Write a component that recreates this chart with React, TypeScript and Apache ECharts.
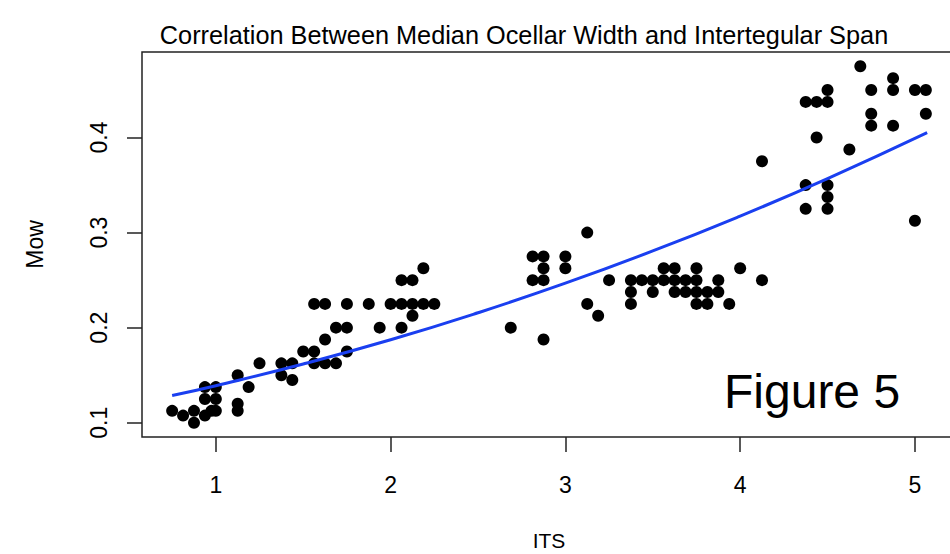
import React, { useEffect, useRef } from "react";
import * as echarts from "echarts";

// Scatter data: ITS (x) and Mow (y)
const itsValues = [
  0.75, 0.8125, 0.875, 0.875, 0.9375, 0.9375, 0.9375, 0.975, 1.0, 1.0, 1.0,
  1.125, 1.125, 1.125, 1.1875, 1.25, 1.375, 1.375, 1.4375, 1.4375,
  1.5, 1.5625, 1.5625, 1.625, 1.6875, 1.625, 1.6875, 1.75, 1.75,
  1.5625, 1.625, 1.75, 1.875, 1.9375, 2.0, 2.0625, 2.125, 2.1875, 2.25,
  2.0625, 2.125, 2.125, 2.0625, 2.1875,
  2.6875, 2.8125, 2.875, 2.875, 2.8125, 2.875, 2.875, 3.0, 3.0,
  3.125, 3.125, 3.1875, 3.25, 3.375, 3.375, 3.375, 3.4375, 3.5, 3.5,
  3.5625, 3.5625, 3.625, 3.625, 3.625, 3.6875, 3.6875, 3.75, 3.75, 3.75, 3.75,
  3.8125, 3.8125, 3.875, 3.875, 3.9375, 4.0, 4.125, 4.125,
  4.375, 4.4375, 4.5, 4.5, 4.4375, 4.375, 4.375, 4.5, 4.5, 4.5, 4.625,
  4.6875, 4.75, 4.75, 4.75, 4.875, 4.875, 4.875, 5.0, 5.0625, 5.0625, 5.0,
];
const mowValues = [
  0.1125, 0.1075, 0.1125, 0.1, 0.1075, 0.125, 0.1375, 0.1125, 0.1125, 0.125, 0.1375,
  0.15, 0.12, 0.1125, 0.1375, 0.1625, 0.1625, 0.15, 0.1625, 0.145,
  0.175, 0.175, 0.1625, 0.1625, 0.1625, 0.1875, 0.2, 0.2, 0.175,
  0.225, 0.225, 0.225, 0.225, 0.2, 0.225, 0.225, 0.225, 0.225, 0.225,
  0.25, 0.25, 0.2125, 0.2, 0.2625,
  0.2, 0.275, 0.275, 0.2625, 0.25, 0.25, 0.1875, 0.275, 0.2625,
  0.3, 0.225, 0.2125, 0.25, 0.25, 0.2375, 0.225, 0.25, 0.25, 0.2375,
  0.25, 0.2625, 0.2625, 0.25, 0.2375, 0.25, 0.2375, 0.2625, 0.25, 0.2375, 0.225,
  0.2375, 0.225, 0.25, 0.2375, 0.225, 0.2625, 0.25, 0.375,
  0.4375, 0.4375, 0.4375, 0.45, 0.4, 0.35, 0.325, 0.35, 0.3375, 0.325, 0.3875,
  0.475, 0.45, 0.425, 0.4125, 0.4625, 0.45, 0.4125, 0.45, 0.45, 0.425, 0.3125,
];

// Fitted curve
const fitX = [0.75, 1.0, 1.5, 2.0, 2.5, 3.0, 3.5, 4.0, 4.5, 5.07];
const fitY = [0.1287, 0.139, 0.1618, 0.1873, 0.2157, 0.2468, 0.2807, 0.3174, 0.3568, 0.4051];

const xTickValues = [1, 2, 3, 4, 5];
const yTickValues = [0.1, 0.2, 0.3, 0.4];

const titleText = "Correlation Between Median Ocellar Width and Intertegular Span";
const xName = "ITS";
const yName = "Mow";
const noteText = "Figure 5";

const FONT = "'Liberation Sans', Arial, Helvetica, sans-serif";

export default function App() {
  const ref = useRef<HTMLDivElement>(null);

  useEffect(() => {
    if (!ref.current) return;
    document.body.style.overflow = "hidden";
    const chart = echarts.init(ref.current, undefined, { renderer: "svg" });
    const scatter = itsValues.map((x, i) => [x, mowValues[i]]);
    const fit = fitX.map((x, i) => [x, fitY[i]]);
    const axisColor = "#222";

    chart.setOption({
      animation: false,
      backgroundColor: "#ffffff",
      textStyle: { fontFamily: FONT },
      grid: {
        left: 142,
        top: 52,
        width: 814,
        height: 385,
        show: true,
        borderColor: axisColor,
        borderWidth: 1.5,
        backgroundColor: "transparent",
        containLabel: false,
        outerBoundsMode: "none",
      },
      xAxis: {
        type: "value",
        min: 0.5775,
        max: 5.235,
        name: xName,
        nameLocation: "middle",
        nameGap: 93,
        nameTextStyle: { fontFamily: FONT, fontSize: 21, color: "#000" },
        axisLine: { show: false },
        splitLine: { show: false },
        axisTick: {
          show: true,
          inside: false,
          length: 15,
          customValues: xTickValues,
          lineStyle: { color: axisColor, width: 1.5 },
        },
        axisLabel: {
          customValues: xTickValues,
          margin: 36,
          fontFamily: FONT,
          fontSize: 23,
          color: "#000",
        },
      },
      yAxis: {
        type: "value",
        min: 0.085,
        max: 0.49,
        name: yName,
        nameLocation: "middle",
        nameGap: 96,
        nameTextStyle: { fontFamily: FONT, fontSize: 23, color: "#000" },
        axisLine: { show: false },
        splitLine: { show: false },
        axisTick: {
          show: true,
          inside: false,
          length: 15,
          customValues: yTickValues,
          lineStyle: { color: axisColor, width: 1.5 },
        },
        axisLabel: {
          customValues: yTickValues,
          rotate: 90,
          margin: 32,
          fontFamily: FONT,
          fontSize: 23,
          color: "#000",
          formatter: (v: number) => v.toFixed(1),
        },
      },
      graphic: [
        {
          type: "text",
          x: 524,
          y: 35,
          style: {
            text: titleText,
            fontFamily: FONT,
            fontSize: 25.3,
            fill: "#000",
            align: "center",
            verticalAlign: "middle",
          },
        },
        {
          type: "text",
          x: 724,
          y: 391,
          style: {
            text: noteText,
            fontFamily: FONT,
            fontSize: 48,
            fill: "#000",
            align: "left",
            verticalAlign: "middle",
          },
        },
      ],
      series: [
        {
          type: "scatter",
          data: scatter,
          symbol: "circle",
          symbolSize: 12,
          itemStyle: { color: "#000", opacity: 1 },
          z: 2,
        },
        {
          type: "line",
          data: fit,
          smooth: true,
          showSymbol: false,
          symbol: "none",
          lineStyle: { color: "#1a3ff0", width: 3 },
          z: 3,
        },
      ],
    });

    return () => chart.dispose();
  }, []);

  return (
    <div
      ref={ref}
      style={{ position: "fixed", left: 0, top: 0, width: 950, height: 554, background: "#fff" }}
    />
  );
}
